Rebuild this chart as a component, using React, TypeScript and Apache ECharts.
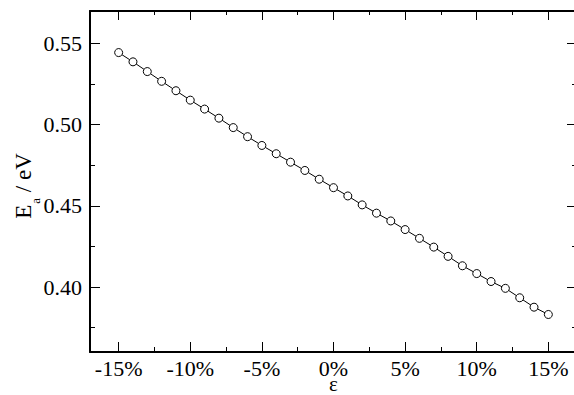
import React, { useEffect, useRef } from "react";
import * as echarts from "echarts";

// Strain (percent) and activation energy (eV)
const strainPct: number[] = [
  -15, -14, -13, -12, -11, -10, -9, -8, -7, -6, -5, -4, -3, -2, -1, 0,
  1, 2, 3, 4, 5, 6, 7, 8, 9, 10, 11, 12, 13, 14, 15,
];
const activationEnergy: number[] = [
  0.5444, 0.5387, 0.5327, 0.5267, 0.5209, 0.5151, 0.5096, 0.504, 0.4982,
  0.4926, 0.4872, 0.4821, 0.4769, 0.4718, 0.4664, 0.4612, 0.4561, 0.4506,
  0.4455, 0.4407, 0.4354, 0.43, 0.4246, 0.4189, 0.4131, 0.4083, 0.4034,
  0.3992, 0.3934, 0.3876, 0.3831,
];

const xMajorTicks: number[] = [-15, -10, -5, 0, 5, 10, 15];
const xMinorTicks: number[] = [-12.5, -7.5, -2.5, 2.5, 7.5, 12.5];
const yMajorTicks: number[] = [0.4, 0.45, 0.5, 0.55];
const yMinorTicks: number[] = [0.375, 0.425, 0.475, 0.525];

const FONT = "Liberation Serif";
const X_MIN = -17;
const X_MAX = 17;
const Y_MIN = 0.36;
const Y_MAX = 0.57;

const serif = { fontFamily: FONT, fontSize: 22, color: "#000" };

function makeX(position: "top" | "bottom", ticks: number[], len: number, main: boolean): any {
  return {
    type: "value",
    position,
    min: X_MIN,
    max: X_MAX,
    splitLine: { show: false },
    axisLine: { show: main, onZero: false, lineStyle: { color: "#000", width: 2 } },
    axisTick: {
      show: true,
      inside: true,
      length: len,
      customValues: ticks,
      lineStyle: { color: "#000", width: 1 },
    },
    axisLabel:
      position === "bottom" && main
        ? {
            show: true,
            customValues: xMajorTicks,
            formatter: (v: number) => `${v}%`,
            ...serif,
            lineHeight: 12,
            margin: 10,
          }
        : { show: false },
    name: position === "bottom" && main ? "ε" : "",
    nameLocation: "middle",
    nameGap: 27,
    nameMoveOverlap: false,
    nameTextStyle: { ...serif, fontSize: 21, lineHeight: 10 },
  };
}

function makeY(position: "left" | "right", ticks: number[], len: number, main: boolean): any {
  return {
    type: "value",
    position,
    min: Y_MIN,
    max: Y_MAX,
    splitLine: { show: false },
    axisLine: { show: main, onZero: false, lineStyle: { color: "#000", width: 2 } },
    axisTick: {
      show: true,
      inside: true,
      length: len,
      customValues: ticks,
      lineStyle: { color: "#000", width: 1 },
    },
    axisLabel:
      position === "left" && main
        ? {
            show: true,
            customValues: yMajorTicks,
            formatter: (v: number) => v.toFixed(2),
            ...serif,
            margin: 8,
          }
        : { show: false },
    name: position === "left" && main ? "{e|E}{sub|a}{tail| / eV}" : "",
    nameLocation: "middle",
    nameGap: 55,
    nameMoveOverlap: false,
    nameTextStyle: {
      ...serif,
      fontSize: 23,
      rich: {
        e: { fontFamily: FONT, fontSize: 23, color: "#000", lineHeight: 23, verticalAlign: "top" },
        sub: {
          fontFamily: FONT,
          fontSize: 13,
          color: "#000",
          lineHeight: 13,
          verticalAlign: "top",
          padding: [17, 0, 0, 1],
        },
        tail: {
          fontFamily: FONT,
          fontSize: 23,
          color: "#000",
          lineHeight: 23,
          verticalAlign: "top",
          padding: [0, 9, 0, 0],
        },
      },
    },
  };
}

export default function App() {
  const ref = useRef<HTMLDivElement>(null);

  useEffect(() => {
    if (!ref.current) return;
    const chart = echarts.init(ref.current, undefined, { renderer: "svg" });
    const data = strainPct.map((x, i) => [x, activationEnergy[i]]);
    chart.setOption({
      animation: false,
      backgroundColor: "#fff",
      textStyle: { fontFamily: FONT },
      grid: {
        left: 90,
        top: 11,
        right: -3,
        bottom: 43,
        containLabel: false,
        outerBoundsMode: "none",
      },
      xAxis: [
        makeX("bottom", xMajorTicks, 10, true),
        makeX("bottom", xMinorTicks, 5, false),
        makeX("top", xMajorTicks, 9, true),
        makeX("top", xMinorTicks, 4, false),
      ],
      yAxis: [
        makeY("left", yMajorTicks, 10, true),
        makeY("left", yMinorTicks, 5, false),
        makeY("right", yMajorTicks, 10, true),
        makeY("right", yMinorTicks, 5, false),
      ],
      series: [
        {
          type: "line",
          xAxisIndex: 0,
          yAxisIndex: 0,
          data,
          symbol: "circle",
          symbolSize: 8,
          showSymbol: true,
          lineStyle: { color: "#000", width: 1 },
          itemStyle: { color: "#fff", borderColor: "#000", borderWidth: 1 },
          z: 3,
        },
      ],
    });
    return () => chart.dispose();
  }, []);

  return (
    <div
      ref={ref}
      style={{ position: "fixed", left: 0, top: 0, width: 574, height: 395 }}
    />
  );
}
